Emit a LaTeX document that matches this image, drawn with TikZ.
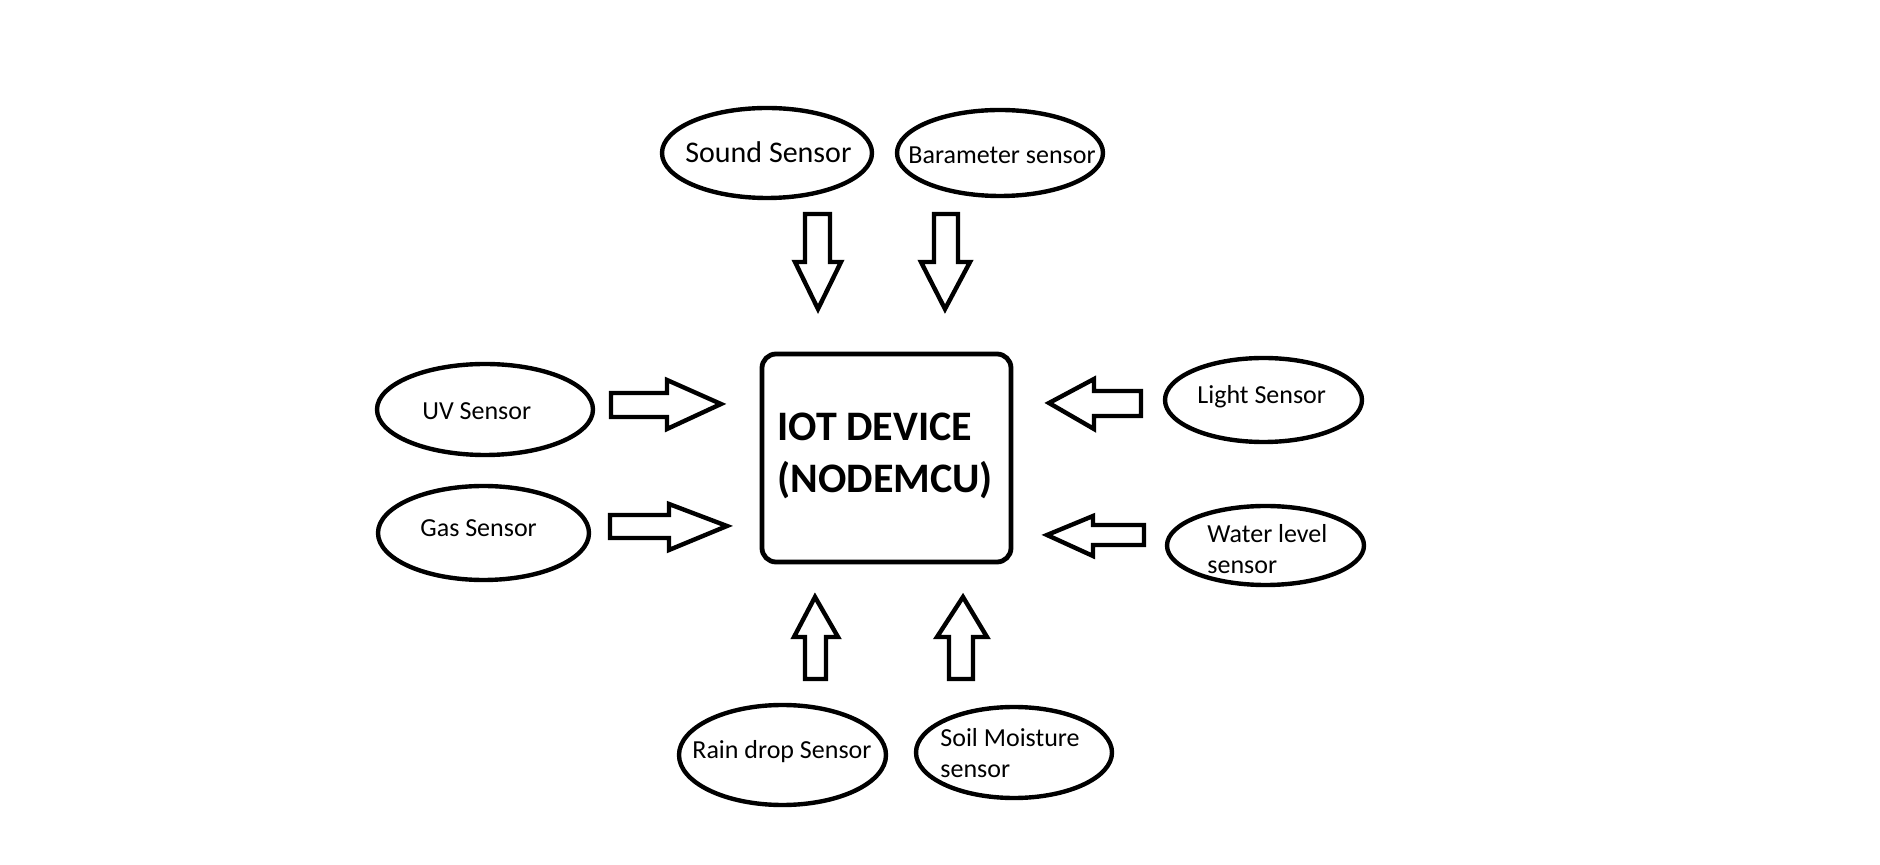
\documentclass[tikz,border=0pt]{standalone}
\usepackage{fontspec}
\setmainfont{Carlito}
\usetikzlibrary{shapes.geometric}
\tikzset{
  sensor/.style={draw=black, line width=2.2pt, ellipse, inner sep=0pt},
  lbl/.style={anchor=base west, inner sep=0pt, font=\fontsize{13pt}{16pt}\selectfont},
  biglbl/.style={anchor=base west, inner sep=0pt, font=\fontsize{15pt}{18pt}\selectfont},
  devlbl/.style={anchor=base west, inner sep=0pt, font=\bfseries\fontsize{21pt}{26pt}\selectfont},
  blockarrow/.style={draw=black, line width=2.2pt, line join=miter, fill=white},
  devbox/.style={draw=black, line width=2.4pt, rounded corners=7pt}
}
\begin{document}
\begin{tikzpicture}[x=0.5pt, y=-0.5pt]
\path[use as bounding box, fill=white] (0,0) rectangle (1880,865);

% device
\draw[devbox] (762,354) rectangle (1011,562);
\node[devlbl] (dev1) at (777,441) {IOT DEVICE};
\node[devlbl] (dev2) at (777,493) {(NODEMCU)};

% sensors (ellipses)
\node[sensor, minimum width=210pt/2, minimum height=90pt/2] (sound) at (767,153) {};
\node[sensor, minimum width=206pt/2, minimum height=86pt/2] (baro) at (1000,153) {};
\node[sensor, minimum width=216pt/2, minimum height=91pt/2] (uv) at (485,409.5) {};
\node[sensor, minimum width=211pt/2, minimum height=94pt/2] (gas) at (483.5,533) {};
\node[sensor, minimum width=197pt/2, minimum height=84pt/2] (light) at (1263.5,400) {};
\node[sensor, minimum width=197pt/2, minimum height=79pt/2] (water) at (1265.5,545.5) {};
\node[sensor, minimum width=207pt/2, minimum height=100pt/2] (rain) at (782.5,755) {};
\node[sensor, minimum width=196pt/2, minimum height=91pt/2] (soil) at (1014,752.5) {};

% labels
\node[biglbl] (soundt) at (685,163) {Sound Sensor};
\node[lbl] (barot) at (908,164) {Barameter sensor};
\node[lbl] (uvt) at (422,420) {UV Sensor};
\node[lbl] (gast) at (420,537) {Gas Sensor};
\node[lbl] (lightt) at (1197,404) {Light Sensor};
\node[lbl] (watert1) at (1207,543) {Water level};
\node[lbl] (watert2) at (1207,574) {sensor};
\node[lbl] (raint) at (692,758) {Rain drop Sensor};
\node[lbl] (soilt1) at (940,747) {Soil Moisture};
\node[lbl] (soilt2) at (940,777) {sensor};

% down arrows (top)
\draw[blockarrow] (805,214) -- (830,214) -- (830,262) -- (841,262) -- (818,309) -- (795,262) -- (805,262) -- cycle;
\draw[blockarrow] (934,214) -- (958,214) -- (958,262) -- (970,262) -- (945,309) -- (921,262) -- (934,262) -- cycle;

% up arrows (bottom)
\draw[blockarrow] (805,679) -- (826,679) -- (826,637) -- (838,637) -- (815,597) -- (794,637) -- (805,637) -- cycle;
\draw[blockarrow] (949,679) -- (973,679) -- (973,637) -- (987,637) -- (963,597) -- (937,637) -- (949,637) -- cycle;

% right arrows (left side)
\draw[blockarrow] (611,393) -- (667,393) -- (667,380) -- (721,404) -- (667,429) -- (667,417) -- (611,417) -- cycle;
\draw[blockarrow] (610,515) -- (669,515) -- (669,504) -- (727,526) -- (669,550) -- (669,538) -- (610,538) -- cycle;

% left arrows (right side)
\draw[blockarrow] (1141,391) -- (1094,391) -- (1094,379) -- (1049,403) -- (1094,429) -- (1094,416) -- (1141,416) -- cycle;
\draw[blockarrow] (1144,525) -- (1093,525) -- (1093,516) -- (1047,535) -- (1093,556) -- (1093,545) -- (1144,545) -- cycle;
\end{tikzpicture}
\end{document}
